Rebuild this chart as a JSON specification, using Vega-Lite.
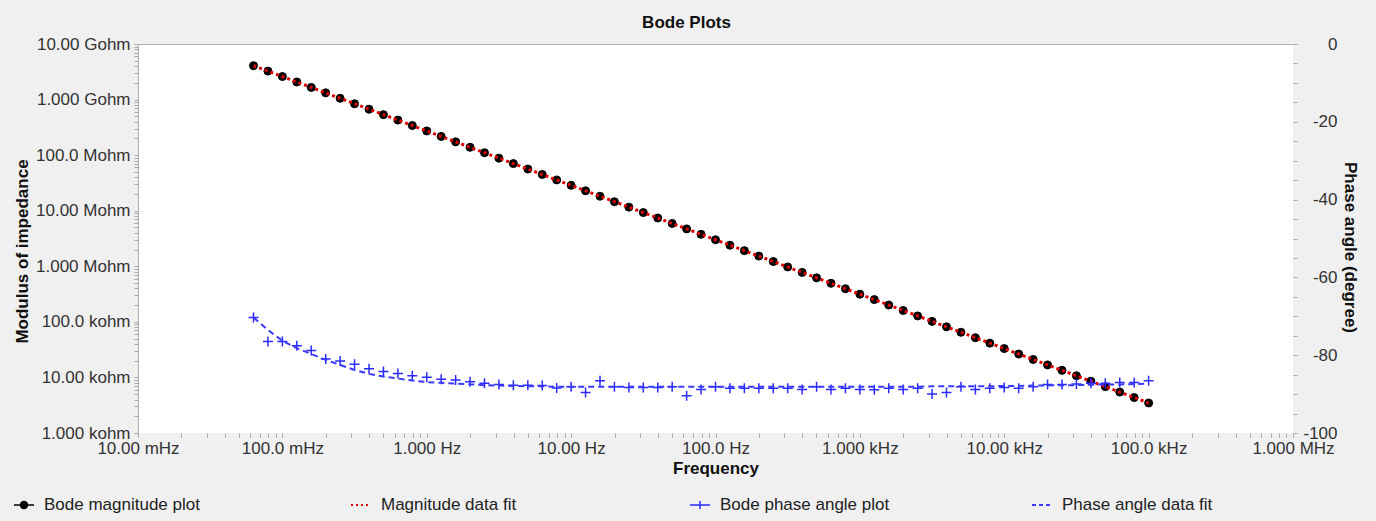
{
  "$schema": "https://vega.github.io/schema/vega-lite/v6.json",
  "width": 1155,
  "height": 389,
  "autosize": {"type": "none"},
  "padding": {"left": 138, "top": 44, "right": 83, "bottom": 88},
  "background": "#f0f0f0",
  "title": {"text": "Bode Plots", "fontSize": 17, "fontWeight": "bold", "font": "Liberation Sans", "color": "#111", "anchor": "middle", "dx": -29, "offset": 3},
  "config": {
    "view": {"fill": "white", "stroke": null},
    "axis": {"labelFont": "Liberation Sans", "labelFontSize": 17, "labelColor": "#333", "titleFont": "Liberation Sans", "titleFontSize": 17, "titleFontWeight": "bold", "titleColor": "#111", "tickColor": "#a8a8a8", "tickSize": 4, "domainColor": "#b0b0b0", "grid": false, "labelFlush": false, "labelOverlap": false},
    "legend": {"orient": "none", "legendY": 450, "labelFont": "Liberation Sans", "labelFontSize": 17, "labelColor": "#222", "labelLimit": 400, "symbolSize": 400, "labelOffset": 9, "symbolStrokeWidth": 1.5, "padding": 0, "title": null}
  },
  "data": {"values": [
    {"f": 0.0631, "z": 4.074e9, "p": -70.3, "pf": -70.3},
    {"f": 0.0794, "z": 3.252e9, "p": -76.5, "pf": -73.5},
    {"f": 0.1, "z": 2.596e9, "p": -76.5, "pf": -76.3},
    {"f": 0.1259, "z": 2.072e9, "p": -77.6, "pf": -78.2},
    {"f": 0.1585, "z": 1.654e9, "p": -78.8, "pf": -79.7},
    {"f": 0.1995, "z": 1.320e9, "p": -81.0, "pf": -81.2},
    {"f": 0.2512, "z": 1.054e9, "p": -81.5, "pf": -82.5},
    {"f": 0.3162, "z": 8.408e8, "p": -82.3, "pf": -83.8},
    {"f": 0.3981, "z": 6.712e8, "p": -83.5, "pf": -84.8},
    {"f": 0.5012, "z": 5.357e8, "p": -84.2, "pf": -85.5},
    {"f": 0.631, "z": 4.276e8, "p": -84.7, "pf": -86.0},
    {"f": 0.7943, "z": 3.413e8, "p": -85.3, "pf": -86.5},
    {"f": 1, "z": 2.724e8, "p": -85.7, "pf": -86.9},
    {"f": 1.259, "z": 2.174e8, "p": -86.2, "pf": -87.1},
    {"f": 1.585, "z": 1.735e8, "p": -86.4, "pf": -87.3},
    {"f": 1.995, "z": 1.385e8, "p": -86.8, "pf": -87.5},
    {"f": 2.512, "z": 1.106e8, "p": -87.2, "pf": -87.7},
    {"f": 3.162, "z": 8.826e7, "p": -87.5, "pf": -87.8},
    {"f": 3.981, "z": 7.043e7, "p": -87.7, "pf": -87.9},
    {"f": 5.012, "z": 5.622e7, "p": -87.7, "pf": -88.0},
    {"f": 6.31, "z": 4.487e7, "p": -87.8, "pf": -88.0},
    {"f": 7.943, "z": 3.582e7, "p": -88.4, "pf": -88.1},
    {"f": 10, "z": 2.859e7, "p": -88.1, "pf": -88.1},
    {"f": 12.59, "z": 2.282e7, "p": -89.6, "pf": -88.1},
    {"f": 15.85, "z": 1.821e7, "p": -86.6, "pf": -88.1},
    {"f": 19.95, "z": 1.454e7, "p": -88.1, "pf": -88.1},
    {"f": 25.12, "z": 1.160e7, "p": -88.3, "pf": -88.1},
    {"f": 31.62, "z": 9.262e6, "p": -88.3, "pf": -88.1},
    {"f": 39.81, "z": 7.393e6, "p": -88.3, "pf": -88.1},
    {"f": 50.12, "z": 5.901e6, "p": -88.1, "pf": -88.1},
    {"f": 63.1, "z": 4.710e6, "p": -90.4, "pf": -88.1},
    {"f": 79.43, "z": 3.759e6, "p": -88.8, "pf": -88.1},
    {"f": 100, "z": 3.000e6, "p": -88.1, "pf": -88.1},
    {"f": 125.9, "z": 2.395e6, "p": -88.5, "pf": -88.1},
    {"f": 158.5, "z": 1.911e6, "p": -88.5, "pf": -88.1},
    {"f": 199.5, "z": 1.526e6, "p": -88.5, "pf": -88.1},
    {"f": 251.2, "z": 1.218e6, "p": -88.5, "pf": -88.1},
    {"f": 316.2, "z": 9.721e5, "p": -88.5, "pf": -88.1},
    {"f": 398.1, "z": 7.759e5, "p": -88.8, "pf": -88.1},
    {"f": 501.2, "z": 6.193e5, "p": -88.1, "pf": -88.1},
    {"f": 631, "z": 4.943e5, "p": -88.8, "pf": -88.1},
    {"f": 794.3, "z": 3.945e5, "p": -88.5, "pf": -88.1},
    {"f": 1000, "z": 3.149e5, "p": -88.8, "pf": -88.1},
    {"f": 1259, "z": 2.513e5, "p": -88.9, "pf": -88.1},
    {"f": 1585, "z": 2.006e5, "p": -88.5, "pf": -88.1},
    {"f": 1995, "z": 1.601e5, "p": -88.8, "pf": -88.1},
    {"f": 2512, "z": 1.278e5, "p": -88.5, "pf": -88.1},
    {"f": 3162, "z": 1.020e5, "p": -90.0, "pf": -88.0},
    {"f": 3981, "z": 8.143e4, "p": -89.6, "pf": -88.0},
    {"f": 5012, "z": 6.500e4, "p": -88.1, "pf": -88.0},
    {"f": 6310, "z": 5.188e4, "p": -88.8, "pf": -88.0},
    {"f": 7943, "z": 4.141e4, "p": -88.5, "pf": -88.0},
    {"f": 10000, "z": 3.305e4, "p": -88.3, "pf": -87.9},
    {"f": 12590, "z": 2.638e4, "p": -88.5, "pf": -87.9},
    {"f": 15850, "z": 2.106e4, "p": -88.1, "pf": -87.8},
    {"f": 19950, "z": 1.681e4, "p": -87.5, "pf": -87.8},
    {"f": 25120, "z": 1.341e4, "p": -87.5, "pf": -87.7},
    {"f": 31620, "z": 1.071e4, "p": -87.4, "pf": -87.7},
    {"f": 39810, "z": 8.548e3, "p": -87.2, "pf": -87.6},
    {"f": 50120, "z": 6.823e3, "p": -87.2, "pf": -87.5},
    {"f": 63100, "z": 5.445e3, "p": -87.0, "pf": -87.5},
    {"f": 79430, "z": 4.346e3, "p": -87.0, "pf": -87.4},
    {"f": 100000, "z": 3.469e3, "p": -86.6, "pf": -87.3}
  ]},
  "resolve": {"scale": {"y": "independent", "color": "independent"}, "axis": {"x": "independent"}, "legend": {"color": "independent"}},
  "layer": [
    {
      "resolve": {"scale": {"color": "independent"}, "legend": {"color": "independent"}},
      "encoding": {
        "x": {"field": "f", "type": "quantitative", "scale": {"type": "log", "domain": [0.01, 1000000]},
          "axis": {"orient": "bottom", "title": "Frequency", "domain": false, "labelPadding": 3, "titlePadding": 4,
            "values": [0.01,0.02,0.03,0.04,0.05,0.06,0.07,0.08,0.09,0.1,0.2,0.3,0.4,0.5,0.6,0.7,0.8,0.9,1,2,3,4,5,6,7,8,9,10,20,30,40,50,60,70,80,90,100,200,300,400,500,600,700,800,900,1000,2000,3000,4000,5000,6000,7000,8000,9000,10000,20000,30000,40000,50000,60000,70000,80000,90000,100000,200000,300000,400000,500000,600000,700000,800000,900000,1000000],
            "labelExpr": "abs(log(datum.value)/LN10 - round(log(datum.value)/LN10)) < 0.001 ? ['10.00 mHz','100.0 mHz','1.000 Hz','10.00 Hz','100.0 Hz','1.000 kHz','10.00 kHz','100.0 kHz','1.000 MHz'][round(log(datum.value)/LN10)+2] : ''"}},
        "y": {"field": "z", "type": "quantitative", "scale": {"type": "log", "domain": [1000, 10000000000]},
          "axis": {"orient": "left", "title": "Modulus of impedance", "domain": true, "labelPadding": 4, "titlePadding": 4, "titleY": 207,
            "values": [1000,2000,3000,4000,5000,6000,7000,8000,9000,10000,20000,30000,40000,50000,60000,70000,80000,90000,100000,200000,300000,400000,500000,600000,700000,800000,900000,1000000,2000000,3000000,4000000,5000000,6000000,7000000,8000000,9000000,10000000,20000000,30000000,40000000,50000000,60000000,70000000,80000000,90000000,100000000,200000000,300000000,400000000,500000000,600000000,700000000,800000000,900000000,1000000000,2000000000,3000000000,4000000000,5000000000,6000000000,7000000000,8000000000,9000000000,10000000000],
            "labelExpr": "abs(log(datum.value)/LN10 - round(log(datum.value)/LN10)) < 0.001 ? ['1.000 kohm','10.00 kohm','100.0 kohm','1.000 Mohm','10.00 Mohm','100.0 Mohm','1.000 Gohm','10.00 Gohm'][round(log(datum.value)/LN10)-3] : ''"}}
      },
      "layer": [
        {
          "mark": {"type": "point", "shape": "circle", "filled": true, "size": 64, "stroke": "#000000", "strokeWidth": 1, "opacity": 1},
          "encoding": {
            "color": {"datum": "Bode magnitude plot", "type": "nominal",
              "scale": {"domain": ["Bode magnitude plot"], "range": ["#000000"]},
              "legend": {"legendX": -125, "symbolType": "M-1,0H1M0.35,0A0.35,0.35 0 1,1 -0.35,0A0.35,0.35 0 1,1 0.35,0", "symbolStrokeColor": "#000000", "symbolFillColor": "#000000"}}
          }
        },
        {
          "mark": {"type": "line", "strokeDash": [3, 3], "strokeWidth": 3},
          "encoding": {
            "color": {"datum": "Magnitude data fit", "type": "nominal",
              "scale": {"domain": ["Magnitude data fit"], "range": ["#e00000"]},
              "legend": {"legendX": 212, "symbolType": "M-1,0H1", "symbolDash": [2, 3], "symbolStrokeWidth": 2}}
          }
        }
      ]
    },
    {
      "resolve": {"scale": {"color": "independent"}, "legend": {"color": "independent"}},
      "encoding": {
        "x": {"field": "f", "type": "quantitative", "scale": {"type": "log", "domain": [0.01, 1000000]},
          "axis": {"orient": "top", "labels": false, "ticks": false, "domain": true, "title": null}}
      },
      "layer": [
        {
          "mark": {"type": "point", "shape": "M-1,0H1M0,-1V1", "filled": false, "size": 100, "strokeWidth": 1.5, "opacity": 1},
          "encoding": {
            "y": {"field": "p", "type": "quantitative", "scale": {"domain": [-100, 0]},
              "axis": {"orient": "right", "title": "Phase angle (degree)", "domain": false, "labelAlign": "right", "labelPadding": 40, "titlePadding": 3, "titleY": 203,
                "values": [-100,-95,-90,-85,-80,-75,-70,-65,-60,-55,-50,-45,-40,-35,-30,-25,-20,-15,-10,-5,0],
                "labelExpr": "datum.value % 20 === 0 ? '' + datum.value : ''"}},
            "color": {"datum": "Bode phase angle plot", "type": "nominal",
              "scale": {"domain": ["Bode phase angle plot"], "range": ["#2b2bff"]},
              "legend": {"legendX": 551, "symbolType": "M-1,0H1M0,-0.4V0.4", "symbolStrokeColor": "#1e1e8c"}}
          }
        },
        {
          "mark": {"type": "line", "strokeDash": [6, 4], "strokeWidth": 2},
          "encoding": {
            "y": {"field": "pf", "type": "quantitative", "scale": {"domain": [-100, 0]},
              "axis": {"orient": "right", "title": "Phase angle (degree)", "domain": false, "labelAlign": "right", "labelPadding": 40, "titlePadding": 3, "titleY": 203,
                "values": [-100,-95,-90,-85,-80,-75,-70,-65,-60,-55,-50,-45,-40,-35,-30,-25,-20,-15,-10,-5,0],
                "labelExpr": "datum.value % 20 === 0 ? '' + datum.value : ''"}},
            "color": {"datum": "Phase angle data fit", "type": "nominal",
              "scale": {"domain": ["Phase angle data fit"], "range": ["#3a3aff"]},
              "legend": {"legendX": 893, "symbolType": "M-1,0H1", "symbolDash": [4, 3], "symbolStrokeWidth": 2}}
          }
        }
      ]
    }
  ]
}
